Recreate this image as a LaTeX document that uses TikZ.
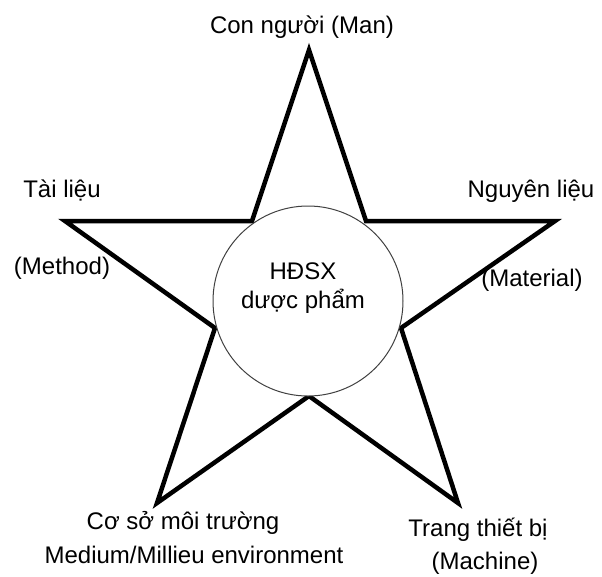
\documentclass[tikz,border=0pt]{standalone}
\usepackage{fontspec}
\setmainfont{Liberation Sans}
\usepackage{xcolor}
\tikzset{
  every picture/.style={line join=round, line cap=round},
  starline/.style={line width=4.5pt, line join=miter},
  hub/.style={circle, draw=black!75, line width=1pt, fill=white, minimum size=190pt, inner sep=0pt},
  lbl/.style={inner sep=0pt, font=\fontsize{24}{29}\selectfont},
}
\begin{document}
\begin{tikzpicture}[x=1pt,y=-1pt]
\useasboundingbox (0,0) rectangle (602,576);
% star
\foreach \n/\x/\y in {T/309/50, iTR/366/221, R/555/221, iR/401/328, BR/458/503,
  iB/309/396, BL/157/503, iL/215/328, L/65/221, iTL/252/221}
  {\coordinate (\n) at (\x,\y);}
\draw[starline] (T)--(iTR)--(R)--(iR)--(BR)--(iB)--(BL)--(iL)--(L)--(iTL)--cycle;
% centre
\node[hub] (core) at (308,301) {};
\node[lbl, align=center] (coretext) at (303,288) {HĐSX\\dược phẩm};
% labels
\node[lbl] (man) at (302,27) {Con người (Man)};
\node[lbl] (method) at (62,190) {Tài liệu};
\node[lbl] (methodEn) at (62,268) {(Method)};
\node[lbl] (material) at (531,191) {Nguyên liệu};
\node[lbl] (materialEn) at (532,280) {(Material)};
\node[lbl] (medium) at (183,523) {Cơ sở môi trường};
\node[lbl] (mediumEn) at (194,555) {Medium/Millieu environment};
\node[lbl] (machine) at (478,530) {Trang thiết bị};
\node[lbl] (machineEn) at (485,563) {(Machine)};
\end{tikzpicture}
\end{document}
